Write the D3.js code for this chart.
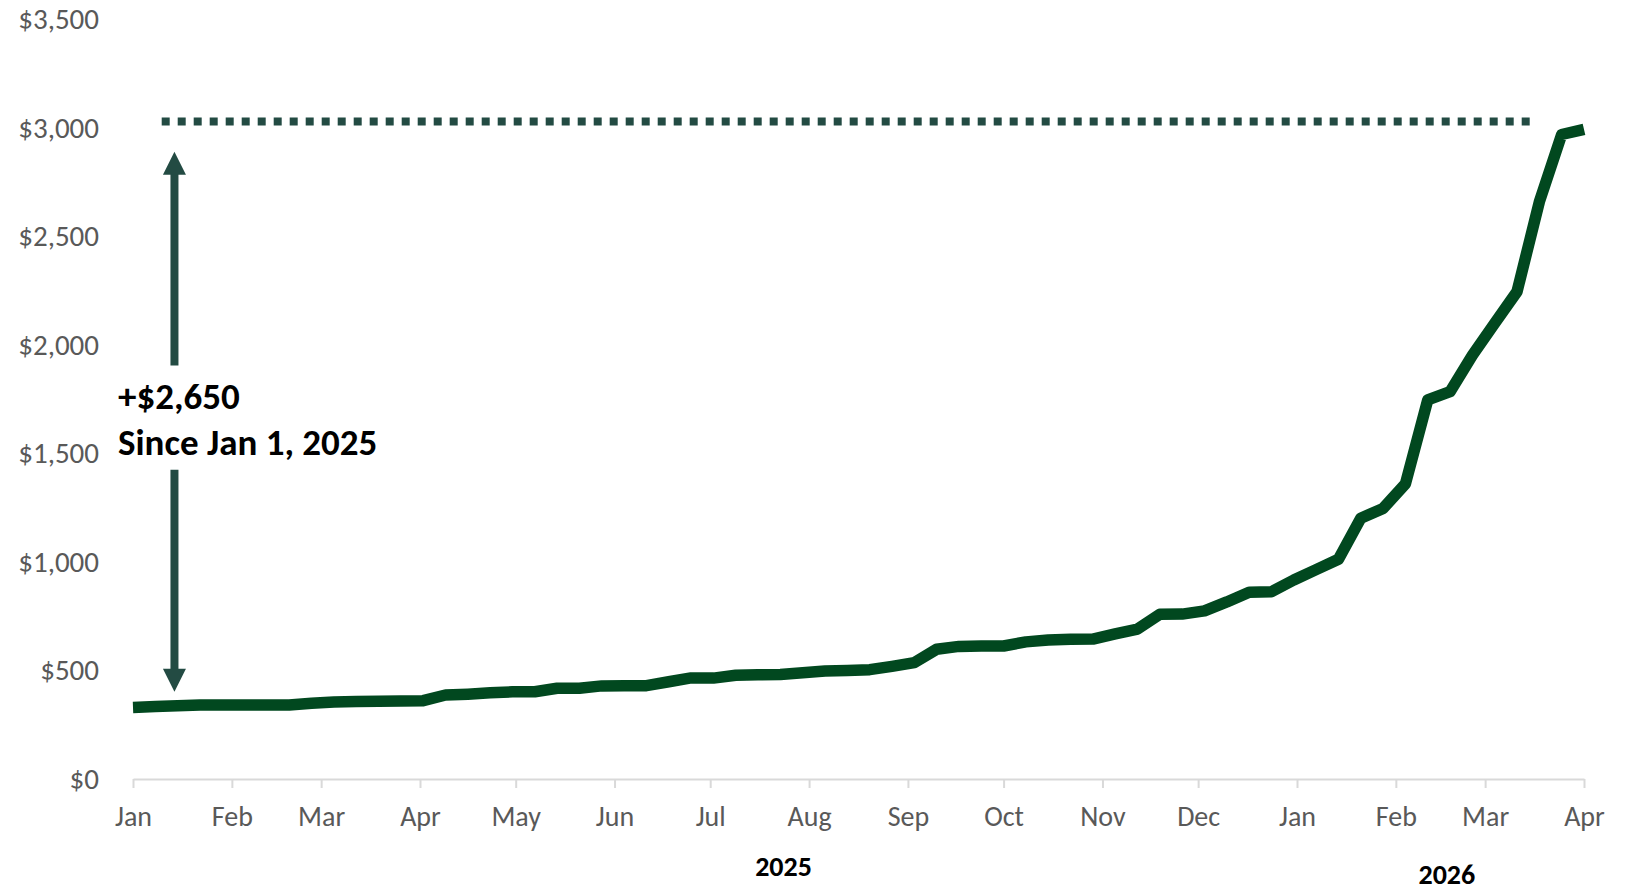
<!DOCTYPE html>
<html>
<head>
<meta charset="utf-8">
<script src="https://cdn.jsdelivr.net/npm/d3@7"></script>
<style>
  body { margin: 0; background: #ffffff; }
  svg { display: block; font-family: Calibri, Carlito, Lato, sans-serif; }
</style>
</head>
<body>
<script>
	var width = 1635;
	var height = 893;

	// weekly balance readings
	var dates = ["2025-01-01","2025-01-08","2025-01-15","2025-01-22","2025-01-29","2025-02-05","2025-02-12","2025-02-19","2025-02-26","2025-03-05",
		"2025-03-12","2025-03-19","2025-03-26","2025-04-02","2025-04-09","2025-04-16","2025-04-23","2025-04-30","2025-05-07","2025-05-14",
		"2025-05-21","2025-05-28","2025-06-04","2025-06-11","2025-06-18","2025-06-25","2025-07-02","2025-07-09","2025-07-16","2025-07-23",
		"2025-07-30","2025-08-06","2025-08-13","2025-08-20","2025-08-27","2025-09-03","2025-09-10","2025-09-17","2025-09-24","2025-10-01",
		"2025-10-08","2025-10-15","2025-10-22","2025-10-29","2025-11-05","2025-11-12","2025-11-19","2025-11-26","2025-12-03","2025-12-10",
		"2025-12-17","2025-12-24","2025-12-31","2026-01-07","2026-01-14","2026-01-21","2026-01-28","2026-02-04","2026-02-11","2026-02-18",
		"2026-02-25","2026-03-04","2026-03-11","2026-03-18","2026-03-25","2026-04-01"];
	var values = [330,334,337,341,341,341,341,341,349,355,
		357,358,360,361,387,391,397,402,402,418,
		418,429,430,430,448,466,465,478,480,482,
		490,498,500,504,519,536,598,611,613,613,
		632,641,644,645,669,691,759,760,775,816,
		861,863,917,965,1013,1202,1247,1360,1747,1785,
		1953,2100,2246,2660,2970,2994];

	var yTicks = [0, 500, 1000, 1500, 2000, 2500, 3000, 3500];
	var monthTicks = ["2025-01-01","2025-02-01","2025-03-01","2025-04-01","2025-05-01","2025-06-01","2025-07-01","2025-08-01",
		"2025-09-01","2025-10-01","2025-11-01","2025-12-01","2026-01-01","2026-02-01","2026-03-01","2026-04-01"];
	var years = ["2025", "2026"];
	var yearDates = ["2025-07-24", "2026-02-17"];

	// annotation
	var levelValue = 3030;
	var levelDates = ["2025-01-10", "2026-03-15"];
	var arrowDate = "2025-01-14";
	var arrowValues = [2890, 402];
	var gapValues = [1905, 1425];
	var noteLines = ["+$2,650", "Since Jan 1, 2025"];

	var parse = d3.timeParse("%Y-%m-%d");
	var data = dates.map(function(d, i) { return { date: parse(d), value: values[i] }; });

	var svg = d3.select("body")
		.append("svg")
		.attr( "width", width )
		.attr( "height", height )

	var x = d3.scaleTime()
		.domain( [parse("2025-01-01"), parse("2026-04-01")] )
		.range( [133, 1584] )

	var y = d3.scaleLinear()
		.domain( [0, 3500] )
		.range( [779, 19.5] )

	//y axis labels
	var yAxis = svg.append("g")
		.attr("transform", "translate(105,0)")
		.call(d3.axisLeft(y)
			.tickValues(yTicks)
			.tickSize(0)
			.tickPadding(6)
			.tickFormat(function(d) { return "$" + d3.format(",")(d); }))
	yAxis.select(".domain").remove()
	yAxis.selectAll("text")
		.attr("fill", "#595959")
		.style("font-size", "29px")
		.style("font-family", "Calibri, Carlito, Lato, sans-serif")

	//x axis
	var xAxis = svg.append("g")
		.attr("transform", "translate(0," + y(0) + ")")
		.call(d3.axisBottom(x)
			.tickValues(monthTicks.map(parse))
			.tickSize(9)
			.tickSizeOuter(0)
			.tickPadding(18)
			.tickFormat(d3.timeFormat("%b")))
	xAxis.select(".domain")
		.attr("stroke", "#d9d9d9")
		.attr("stroke-width", 2)
	xAxis.selectAll("line")
		.attr("stroke", "#d9d9d9")
		.attr("stroke-width", 2)
	xAxis.selectAll("text")
		.attr("fill", "#595959")
		.style("font-size", "28px")
		.style("font-family", "Calibri, Carlito, Lato, sans-serif")

	svg.selectAll(".year")
		.data(years)
		.enter()
		.append("text")
		.attr("class", "year")
		.attr("x", function(d, i) { return x(parse(yearDates[i])); })
		.attr("y", function(d, i) { return i == 0 ? 876 : 884; })
		.attr("text-anchor", "middle")
		.attr("font-weight", "bold")
		.attr("font-size", "28px")
		.attr("fill", "#000000")
		.text(function(d) { return d; })

	//dotted level line
	svg.append("line")
		.attr("x1", x(parse(levelDates[0])))
		.attr("x2", x(parse(levelDates[1])))
		.attr("y1", y(levelValue))
		.attr("y2", y(levelValue))
		.attr("stroke", "#234b43")
		.attr("stroke-width", 8)
		.attr("stroke-dasharray", "8,8")

	//arrows
	var ax = x(parse(arrowDate));
	var head = 23;
	var arrows = svg.append("g").attr("fill", "#234b43").attr("stroke", "#234b43")
	arrows.append("line")
		.attr("x1", ax).attr("x2", ax)
		.attr("y1", y(arrowValues[0]) + head - 1).attr("y2", y(gapValues[0]))
		.attr("stroke-width", 8)
	arrows.append("line")
		.attr("x1", ax).attr("x2", ax)
		.attr("y1", y(gapValues[1])).attr("y2", y(arrowValues[1]) - head + 1)
		.attr("stroke-width", 8)
	arrows.append("path")
		.attr("stroke", "none")
		.attr("d", "M" + ax + "," + y(arrowValues[0]) + "L" + (ax - head / 2) + "," + (y(arrowValues[0]) + head) + "L" + (ax + head / 2) + "," + (y(arrowValues[0]) + head) + "Z")
	arrows.append("path")
		.attr("stroke", "none")
		.attr("d", "M" + ax + "," + y(arrowValues[1]) + "L" + (ax - head / 2) + "," + (y(arrowValues[1]) - head) + "L" + (ax + head / 2) + "," + (y(arrowValues[1]) - head) + "Z")

	var note = svg.append("text")
		.attr("x", 118)
		.attr("y", 409)
		.attr("font-weight", "bold")
		.attr("font-size", "37px")
		.attr("fill", "#000000")
	note.selectAll("tspan")
		.data(noteLines)
		.enter()
		.append("tspan")
		.attr("x", 118)
		.attr("dy", function(d, i) { return i == 0 ? 0 : 46; })
		.text(function(d) { return d; })

	//balance line
	var line = d3.line()
		.x(function(d) { return x(d.date); })
		.y(function(d) { return y(d.value); })

	svg.append("path")
		.datum(data)
		.attr("d", line)
		.attr("fill", "none")
		.attr("stroke", "#01481f")
		.attr("stroke-width", 11.5)
		.attr("stroke-linejoin", "round")
		.attr("stroke-linecap", "butt")
</script>
</body>
</html>
